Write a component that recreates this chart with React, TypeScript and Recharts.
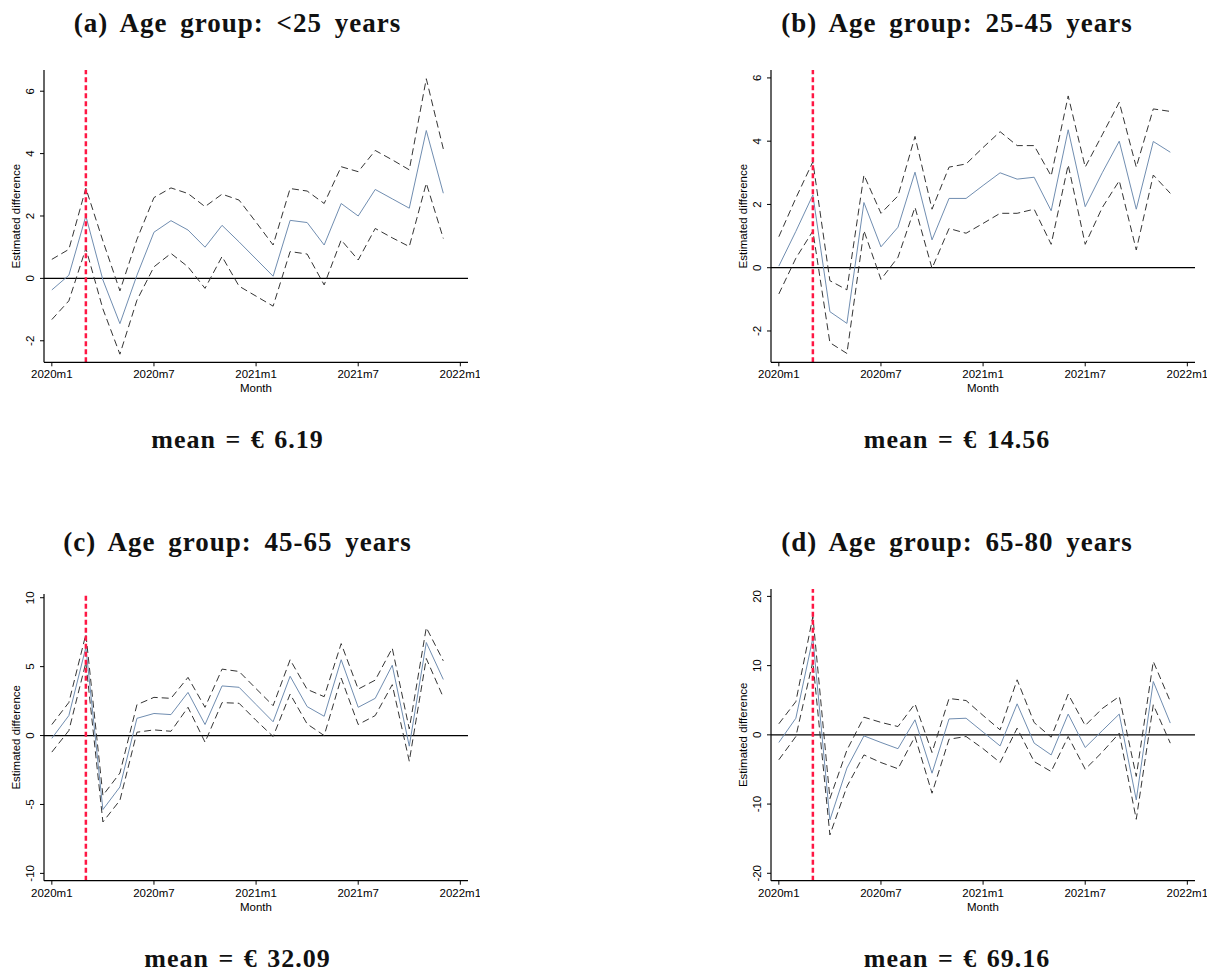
import React from "react";
import { LineChart, Line, XAxis, YAxis, ReferenceLine } from "recharts";

const months = [
  "2020m1", "2020m2", "2020m3", "2020m4", "2020m5", "2020m6", "2020m7", "2020m8", "2020m9", "2020m10", "2020m11", "2020m12",
  "2021m1", "2021m2", "2021m3", "2021m4", "2021m5", "2021m6", "2021m7", "2021m8", "2021m9", "2021m10", "2021m11", "2021m12",
];
const xTicks = [0, 6, 12, 18, 24];
const xTickLabels = ["2020m1", "2020m7", "2021m1", "2021m7", "2022m1"];
const treatmentMonth = 2; // 2020m3

// (a) <25 years
const estA = [-0.37, 0.1, 2.0, -0.05, -1.45, 0.1, 1.48, 1.85, 1.55, 1.0, 1.7, 1.17, 0.62, 0.07, 1.86, 1.79, 1.07, 2.4, 2.0, 2.85, 2.55, 2.25, 4.74, 2.73];
const hiA = [0.61, 0.93, 2.89, 1.2, -0.4, 1.25, 2.59, 2.9, 2.72, 2.3, 2.7, 2.51, 1.8, 1.07, 2.88, 2.8, 2.4, 3.58, 3.42, 4.1, 3.8, 3.48, 6.4, 4.15];
const loA = [-1.32, -0.72, 0.96, -0.98, -2.43, -0.7, 0.37, 0.8, 0.37, -0.32, 0.7, -0.25, -0.57, -0.89, 0.86, 0.78, -0.21, 1.23, 0.59, 1.6, 1.3, 1.02, 3.05, 1.28];

// (b) 25-45 years
const estB = [0.05, 1.15, 2.3, -1.39, -1.76, 2.06, 0.66, 1.28, 3.02, 0.88, 2.19, 2.19, 2.6, 3.0, 2.8, 2.86, 1.8, 4.36, 1.93, 3.0, 4.0, 1.85, 3.99, 3.65];
const hiB = [0.98, 2.2, 3.35, -0.41, -0.7, 2.93, 1.72, 2.27, 4.15, 1.85, 3.18, 3.28, 3.8, 4.3, 3.86, 3.86, 2.9, 5.43, 3.18, 4.2, 5.23, 3.18, 5.02, 4.94];
const loB = [-0.83, 0.3, 1.16, -2.37, -2.71, 1.17, -0.37, 0.33, 1.91, -0.02, 1.24, 1.09, 1.4, 1.72, 1.72, 1.85, 0.74, 3.25, 0.74, 1.9, 2.75, 0.56, 2.93, 2.35];

// (c) 45-65 years
const estC = [-0.2, 1.45, 6.4, -5.37, -3.73, 1.25, 1.6, 1.52, 3.13, 0.8, 3.6, 3.5, 2.25, 1.0, 4.3, 2.1, 1.4, 5.5, 2.05, 2.7, 5.1, -0.77, 6.75, 4.07];
const hiC = [0.8, 2.4, 7.35, -4.34, -2.72, 2.24, 2.77, 2.7, 4.22, 2.05, 4.82, 4.65, 3.4, 2.17, 5.5, 3.35, 2.82, 6.67, 3.37, 4.02, 6.34, 0.48, 7.83, 5.42];
const loC = [-1.2, 0.36, 5.3, -6.27, -4.7, 0.24, 0.41, 0.31, 2.05, -0.48, 2.39, 2.34, 1.1, -0.07, 3.01, 0.84, 0.0, 4.17, 0.8, 1.45, 3.69, -1.86, 5.59, 2.77];

// (d) 65-80 years
const estD = [-1.1, 2.4, 14.0, -12.3, -4.8, -0.15, -1.1, -2.0, 2.17, -5.54, 2.3, 2.4, 0.4, -1.6, 4.48, -1.2, -2.9, 3.0, -1.83, 0.6, 3.0, -9.4, 7.7, 1.7];
const hiD = [1.6, 4.8, 17.1, -9.2, -2.2, 2.55, 1.8, 1.2, 4.48, -2.55, 5.25, 4.96, 2.8, 0.72, 7.95, 1.78, -0.34, 5.88, 1.35, 3.8, 5.54, -6.0, 10.6, 4.82];
const loD = [-3.6, -0.24, 10.6, -14.46, -7.47, -2.9, -4.0, -4.9, -0.24, -8.43, -0.63, -0.24, -2.0, -4.0, 0.96, -3.86, -5.3, -0.24, -4.96, -2.5, 0.24, -12.2, 4.34, -1.2];

const sans = "'Liberation Sans', Arial, sans-serif";
const serif = "'Liberation Serif', 'Times New Roman', serif";

type PanelProps = {
  title: string;
  mean: string;
  est: number[];
  hi: number[];
  lo: number[];
  yTicks: number[];
  yDomain: [number, number];
  left: number;
  plotTop: number;
  plotBottom: number;
  textX: number;
  titleY: number;
  meanY: number;
};

function Panel(p: PanelProps) {
  const data = months.map((m, i) => ({ t: i, month: m, est: p.est[i], hi: p.hi[i], lo: p.lo[i] }));
  const chartW = 480;
  const marginTop = 10;
  const xAxisH = 40;
  const chartH = p.plotBottom - p.plotTop + marginTop + xAxisH;
  const headStyle: React.CSSProperties = {
    position: "absolute",
    left: p.textX - 250,
    width: 500,
    textAlign: "center",
    fontFamily: serif,
    fontWeight: "bold",
    fontSize: 27,
    lineHeight: "32px",
    color: "#111",
    whiteSpace: "nowrap",
  };

  return (
    <>
      <div style={{ ...headStyle, top: p.titleY - 16, letterSpacing: 1, wordSpacing: 5 }}>{p.title}</div>
      <div style={{ position: "absolute", left: p.left, top: p.plotTop - marginTop }}>
        <LineChart width={chartW} height={chartH} data={data} margin={{ top: marginTop, right: 12, bottom: 0, left: 0 }}>
          <XAxis
            dataKey="t"
            type="number"
            domain={[-0.46, 24.45]}
            ticks={xTicks}
            interval={0}
            allowDataOverflow
            height={xAxisH}
            tickSize={4}
            tickMargin={8}
            axisLine={{ stroke: "#000", strokeWidth: 1.2 }}
            tickLine={{ stroke: "#000" }}
            tick={(props: any) => (
              <text x={props.x} y={props.y} textAnchor="middle" dominantBaseline="central" fontFamily={sans} fontSize={11.5} fill="#000">
                {xTickLabels[xTicks.indexOf(props.payload.value)]}
              </text>
            )}
            label={{
              content: (props: any) => {
                const vb = props.viewBox;
                return (
                  <text x={vb.x + vb.width / 2} y={vb.y + 26} textAnchor="middle" dominantBaseline="central" fontFamily={sans} fontSize={11.5} fill="#000">
                    Month
                  </text>
                );
              },
            }}
          />
          <YAxis
            type="number"
            domain={p.yDomain}
            ticks={p.yTicks}
            interval={0}
            allowDataOverflow
            width={44}
            tickSize={4}
            tickMargin={10}
            axisLine={{ stroke: "#000", strokeWidth: 1.2 }}
            tickLine={{ stroke: "#000" }}
            tick={(props: any) => (
              <text
                x={props.x}
                y={props.y}
                transform={`rotate(-90, ${props.x}, ${props.y})`}
                textAnchor="middle"
                dominantBaseline="central"
                fontFamily={sans}
                fontSize={11.5}
                fill="#000"
              >
                {props.payload.value}
              </text>
            )}
            label={{
              content: (props: any) => {
                const vb = props.viewBox;
                const x = vb.x + 16;
                const y = vb.y + vb.height / 2;
                return (
                  <text x={x} y={y} transform={`rotate(-90, ${x}, ${y})`} textAnchor="middle" dominantBaseline="central" fontFamily={sans} fontSize={11.5} fill="#000">
                    Estimated difference
                  </text>
                );
              },
            }}
          />
          <ReferenceLine y={0} stroke="#000" strokeWidth={1.2} />
          <Line type="linear" dataKey="hi" stroke="#333" strokeWidth={1} strokeDasharray="7 4" dot={false} isAnimationActive={false} />
          <Line type="linear" dataKey="lo" stroke="#333" strokeWidth={1} strokeDasharray="7 4" dot={false} isAnimationActive={false} />
          <Line type="linear" dataKey="est" stroke="#6f8db0" strokeWidth={1} dot={false} isAnimationActive={false} />
          <ReferenceLine x={treatmentMonth} stroke="#ff1744" strokeWidth={2.5} strokeDasharray="5 3" />
        </LineChart>
      </div>
      <div style={{ ...headStyle, top: p.meanY - 16, fontSize: 26, letterSpacing: 1, wordSpacing: 2 }}>{p.mean}</div>
    </>
  );
}

export default function App() {
  return (
    <div style={{ position: "absolute", left: 0, top: 0, width: 1218, height: 973, background: "#fff" }}>
      <Panel title="(a) Age group: <25 years" mean="mean = € 6.19" est={estA} hi={hiA} lo={loA}
        yTicks={[-2, 0, 2, 4, 6]} yDomain={[-2.69, 6.68]} left={0} plotTop={70} plotBottom={362.3}
        textX={237.5} titleY={23} meanY={440} />
      <Panel title="(b) Age group: 25-45 years" mean="mean = € 14.56" est={estB} hi={hiB} lo={loB}
        yTicks={[-2, 0, 2, 4, 6]} yDomain={[-2.99, 6.25]} left={726.7} plotTop={70} plotBottom={362.3}
        textX={957} titleY={23} meanY={440} />
      <Panel title="(c) Age group: 45-65 years" mean="mean = € 32.09" est={estC} hi={hiC} lo={loC}
        yTicks={[-10, -5, 0, 5, 10]} yDomain={[-10.53, 10.27]} left={0} plotTop={594} plotBottom={880.7}
        textX={237.5} titleY={542} meanY={959} />
      <Panel title="(d) Age group: 65-80 years" mean="mean = € 69.16" est={estD} hi={hiD} lo={loD}
        yTicks={[-20, -10, 0, 10, 20]} yDomain={[-21.07, 21.07]} left={726.7} plotTop={589} plotBottom={880.7}
        textX={957} titleY={542} meanY={959} />
    </div>
  );
}
